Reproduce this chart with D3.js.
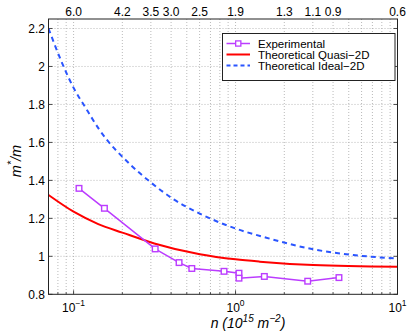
<!DOCTYPE html>
<html>
<head>
<meta charset="utf-8">
<script src="https://cdn.jsdelivr.net/npm/d3@7"></script>
<style>
  body { margin: 0; background: #fff; }
  text { font-family: "Liberation Sans", Arial, sans-serif; fill: #000; }
</style>
</head>
<body>
<div id="chart"></div>
<script>
// Experimental points
const expN = [0.108, 0.155, 0.319, 0.448, 0.537, 0.849, 1.05, 1.05, 1.506, 2.79, 4.35];
const expM = [1.358, 1.253, 1.039, 0.967, 0.936, 0.921, 0.911, 0.885, 0.894, 0.869, 0.888];

// Theoretical quasi-2D
const quasiN = [0.07, 0.1, 0.142, 0.2, 0.315, 0.602, 1, 1.41, 3.02, 10];
const quasiM = [1.323, 1.235, 1.170, 1.125, 1.068, 1.011, 0.984, 0.972, 0.954, 0.945];

// Theoretical ideal-2D
const idealN = [0.07, 0.0856, 0.1009, 0.116, 0.144, 0.226, 0.300, 0.412, 0.597, 0.966, 1.55, 3.02, 5.33, 10];
const idealM = [2.2, 2.011, 1.881, 1.796, 1.668, 1.480, 1.389, 1.302, 1.226, 1.151, 1.098, 1.037, 1.007, 0.988];

// Axis ticks
const yTicks = [0.8, 1, 1.2, 1.4, 1.6, 1.8, 2, 2.2];
const yTickLabels = ["0.8", "1", "1.2", "1.4", "1.6", "1.8", "2", "2.2"];
const xTicks = [0.1, 1, 10];
const xTickExp = ["\u22121", "0", "1"];
const topTickN = [0.1, 0.2, 0.3, 0.4, 0.6, 1, 2, 3, 4, 10];
const topTickLabels = ["6.0", "4.2", "3.5", "3.0", "2.5", "1.9", "1.3", "1.1", "0.9", "0.6"];
const legendNames = ["Experimental", "Theoretical Quasi\u22122D", "Theoretical Ideal\u22122D"];

const W = 415, H = 332;
const margin = { top: 19, right: 17.5, bottom: 37.7, left: 48.5 };
const width = W - margin.left - margin.right;
const height = H - margin.top - margin.bottom;

const svg = d3.select("#chart").append("svg")
    .attr("width", W)
    .attr("height", H);

const g = svg.append("g")
    .attr("transform", `translate(${margin.left},${margin.top})`);

const x = d3.scaleLog().domain([0.07, 10]).range([0, width]);
const y = d3.scaleLinear().domain([0.8, 2.25]).range([height, 0]);

// minor log positions
const minorX = [];
[0.01, 0.1, 1].forEach(dec => {
    for (let k = 1; k <= 9; k++) {
        const v = dec * k;
        if (v >= 0.07 && v <= 10) minorX.push(v);
    }
});
minorX.push(10);

// Grid
g.append("g").selectAll("line")
    .data(minorX.filter(v => v > 0.07 && v < 10))
    .join("line")
    .attr("x1", d => x(d)).attr("x2", d => x(d))
    .attr("y1", 0).attr("y2", height)
    .attr("stroke", "#a8a8a8")
    .attr("stroke-width", 0.8)
    .attr("stroke-dasharray", "1,2");

g.append("g").selectAll("line")
    .data(yTicks.filter(v => v > 0.8))
    .join("line")
    .attr("x1", 0).attr("x2", width)
    .attr("y1", d => y(d)).attr("y2", d => y(d))
    .attr("stroke", "#a8a8a8")
    .attr("stroke-width", 0.8)
    .attr("stroke-dasharray", "1,2");

// Ticks (inward)
const tickG = g.append("g").attr("stroke", "#222").attr("stroke-width", 0.8);
minorX.forEach(v => {
    const len = xTicks.includes(v) ? 4 : 2;
    tickG.append("line").attr("x1", x(v)).attr("x2", x(v)).attr("y1", height).attr("y2", height - len);
});
yTicks.forEach(v => {
    tickG.append("line").attr("x1", 0).attr("x2", 4).attr("y1", y(v)).attr("y2", y(v));
    tickG.append("line").attr("x1", width).attr("x2", width - 4).attr("y1", y(v)).attr("y2", y(v));
});

// Curves
const line = d3.line()
    .x(d => x(d[0]))
    .y(d => y(d[1]))
    .curve(d3.curveMonotoneX);

svg.append("clipPath").attr("id", "plotClip")
    .append("rect").attr("width", width).attr("height", height);

const plot = g.append("g").attr("clip-path", "url(#plotClip)");

plot.append("path")
    .attr("d", line(idealN.map((n, i) => [n, idealM[i]])))
    .attr("fill", "none")
    .attr("stroke", "#2a55ff")
    .attr("stroke-width", 2)
    .attr("stroke-dasharray", "5,4");

plot.append("path")
    .attr("d", line(quasiN.map((n, i) => [n, quasiM[i]])))
    .attr("fill", "none")
    .attr("stroke", "#ff0000")
    .attr("stroke-width", 2);

const expData = expN.map((n, i) => [n, expM[i]]);
plot.append("path")
    .attr("d", d3.line().x(d => x(d[0])).y(d => y(d[1]))(expData))
    .attr("fill", "none")
    .attr("stroke", "#bb3cff")
    .attr("stroke-width", 1.5);

plot.selectAll(".marker")
    .data(expData)
    .join("rect")
    .attr("class", "marker")
    .attr("x", d => x(d[0]) - 2.8)
    .attr("y", d => y(d[1]) - 2.8)
    .attr("width", 5.6)
    .attr("height", 5.6)
    .attr("fill", "#fff")
    .attr("stroke", "#bb3cff")
    .attr("stroke-width", 1.4);

// Box
g.append("rect")
    .attr("width", width).attr("height", height)
    .attr("fill", "none")
    .attr("stroke", "#222")
    .attr("stroke-width", 1);

// Y tick labels
g.append("g").selectAll("text")
    .data(yTicks)
    .join("text")
    .attr("x", -3.5)
    .attr("y", d => y(d))
    .attr("dy", "0.35em")
    .attr("text-anchor", "end")
    .attr("font-size", 12)
    .text((d, i) => yTickLabels[i]);

// X tick labels with exponents
xTicks.forEach((v, i) => {
    const t = g.append("text")
        .attr("x", x(v))
        .attr("y", height + 17.5)
        .attr("text-anchor", "middle")
        .attr("font-size", 12);
    t.append("tspan").text("10");
    t.append("tspan").attr("dy", -6).attr("font-size", 8.5).text(xTickExp[i]);
});

// Top labels
g.append("g").selectAll("text")
    .data(topTickN)
    .join("text")
    .attr("x", d => x(d))
    .attr("y", -3)
    .attr("text-anchor", "middle")
    .attr("font-size", 12)
    .text((d, i) => topTickLabels[i]);

// Axis titles
const xl = svg.append("text")
    .attr("x", 248)
    .attr("y", 327.5)
    .attr("text-anchor", "middle")
    .attr("font-size", 14)
    .attr("font-style", "italic");
xl.append("tspan").text("n (10");
xl.append("tspan").attr("dy", -5.5).attr("font-size", 10).text("15");
xl.append("tspan").attr("dy", 5.5).text(" m");
xl.append("tspan").attr("dy", -5.5).attr("font-size", 10).text("\u22122");
xl.append("tspan").attr("dy", 5.5).text(")");

const yl = svg.append("text")
    .attr("transform", "translate(21,161) rotate(-90)")
    .attr("text-anchor", "middle")
    .attr("font-size", 14.5)
    .attr("font-style", "italic");
yl.append("tspan").text("m");
yl.append("tspan").attr("dy", -6).attr("font-size", 10.5).text("*");
yl.append("tspan").attr("dy", 6).text("/m");

// Legend
const lg = svg.append("g").attr("transform", "translate(222.5,33.5)");
lg.append("rect")
    .attr("width", 172.5).attr("height", 47)
    .attr("fill", "#fff")
    .attr("stroke", "#222")
    .attr("stroke-width", 1);

const legendStyles = [
    { color: "#bb3cff", dash: null, width: 1.5, marker: true },
    { color: "#ff0000", dash: null, width: 2, marker: false },
    { color: "#2a55ff", dash: "4,3", width: 2, marker: false }
];
legendNames.forEach((name, i) => {
    const yy = 10 + i * 11;
    const s = legendStyles[i];
    lg.append("line")
        .attr("x1", 4).attr("x2", 27.5)
        .attr("y1", yy).attr("y2", yy)
        .attr("stroke", s.color)
        .attr("stroke-width", s.width)
        .attr("stroke-dasharray", s.dash);
    if (s.marker) {
        lg.append("rect")
            .attr("x", 15.75 - 2.6).attr("y", yy - 2.6)
            .attr("width", 5.2).attr("height", 5.2)
            .attr("fill", "#fff")
            .attr("stroke", s.color)
            .attr("stroke-width", 1.3);
    }
    lg.append("text")
        .attr("x", 35.5)
        .attr("y", yy)
        .attr("dy", "0.35em")
        .attr("font-size", 11.5)
        .text(name);
});
</script>
</body>
</html>
